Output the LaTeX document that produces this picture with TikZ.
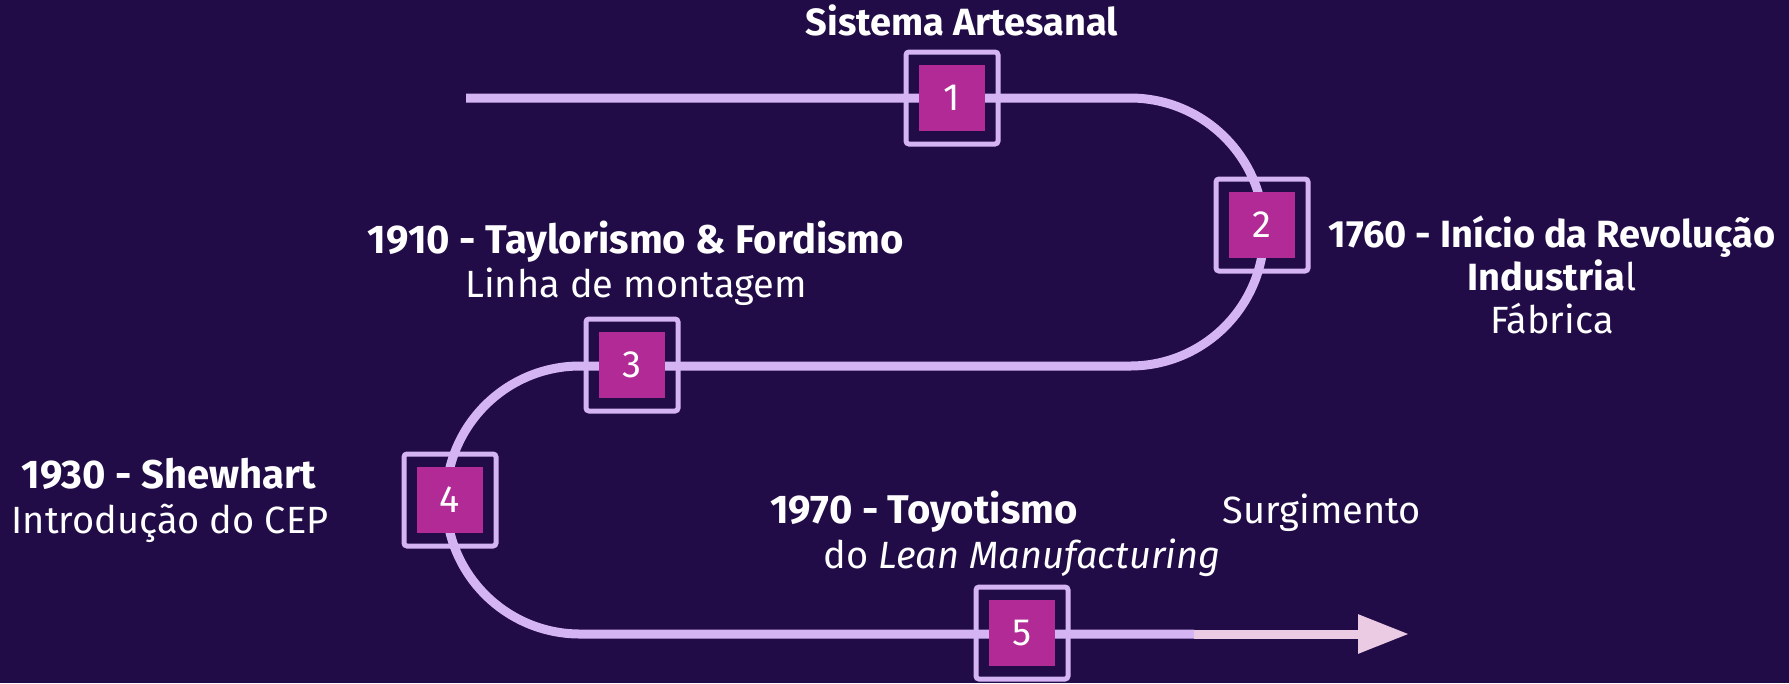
\documentclass[tikz,border=0pt]{standalone}
\usepackage{fontspec}
\setmainfont{Fira Sans}
\usetikzlibrary{arrows.meta}
\definecolor{bgpurple}{HTML}{210C48}
\definecolor{lilac}{HTML}{D5B4F3}
\definecolor{boxmag}{HTML}{B22A96}
\definecolor{pinkend}{HTML}{EBCBE4}
\tikzset{
  track/.style={line width=0.9mm, color=lilac},
  frame/.style={draw=lilac, line width=0.5mm, rounded corners=0.3mm, minimum size=9.2mm, inner sep=0pt},
  stepnum/.style={fill=boxmag, text=white, minimum size=6.6mm, inner sep=0pt, font=\fontsize{10.8}{13}\selectfont},
  title/.style={anchor=base, text=white, inner sep=0pt, font=\fontsize{10.8}{13}\selectfont\bfseries},
  bigtitle/.style={title, font=\fontsize{11.4}{13}\selectfont\bfseries},
  sub/.style={anchor=base, text=white, inner sep=0pt, font=\fontsize{10.8}{13}\selectfont},
}

\begin{document}
\begin{tikzpicture}[x=0.1mm, y=-0.1mm]
			%%%%% BACKGROUND %%%%%
			\fill[bgpurple] (0, 0) rectangle (1789, 683);
			\useasboundingbox (0, 0) rectangle (1789, 683);
			
			%%%%% TRACK %%%%%
			\coordinate (start) at (466, 98);
			\coordinate (turnA) at (1130, 98);
			\coordinate (turnB) at (580, 366);
			\coordinate (split) at (1194, 634);
			\coordinate (tip) at (1409, 634);
			\draw[track] (start) -- (turnA) arc (-90:90:134) -- (turnB) arc (-90:-270:134) -- (split);
			\draw[track, color=pinkend, -{Triangle[length=5.1mm, width=3.7mm]}] (split) -- (tip);
			
			%%%%% STEPS %%%%%
			\node[frame] (f1) at (952, 98) {};
			\node[stepnum] (n1) at (f1) {1};
			\node[frame] (f2) at (1262, 225) {};
			\node[stepnum] (n2) at (f2) {2};
			\node[frame] (f3) at (632, 365) {};
			\node[stepnum] (n3) at (f3) {3};
			\node[frame] (f4) at (450, 500) {};
			\node[stepnum] (n4) at (f4) {4};
			\node[frame] (f5) at (1022, 633) {};
			\node[stepnum] (n5) at (f5) {5};
			
			%%%%% LABELS %%%%%
			\node[title] (artesanal) at (962, 35) {Sistema Artesanal};
			
			\node[title] (revolucao) at (1552, 247) {1760 - Início da Revolução};
			\node[sub] (industrial) at (1552, 290) {{\bfseries Industria}l};
			\node[sub] (fabrica) at (1552, 333) {Fábrica};
			
			\node[bigtitle] (taylor) at (636, 253) {1910 - Taylorismo \& Fordismo};
			\node[sub] (montagem) at (636, 297) {Linha de montagem};
			
			\node[bigtitle] (shewhart) at (169, 488) {1930 - Shewhart};
			\node[sub] (cep) at (170, 533) {Introdução do CEP};
			
			\node[bigtitle] (toyota) at (924, 523) {1970 - Toyotismo};
			\node[sub] (surgimento) at (1322, 523) {Surgimento};
			\node[sub] (lean) at (1022, 568) {do \textit{Lean Manufacturing}};
		\end{tikzpicture}
\end{document}
